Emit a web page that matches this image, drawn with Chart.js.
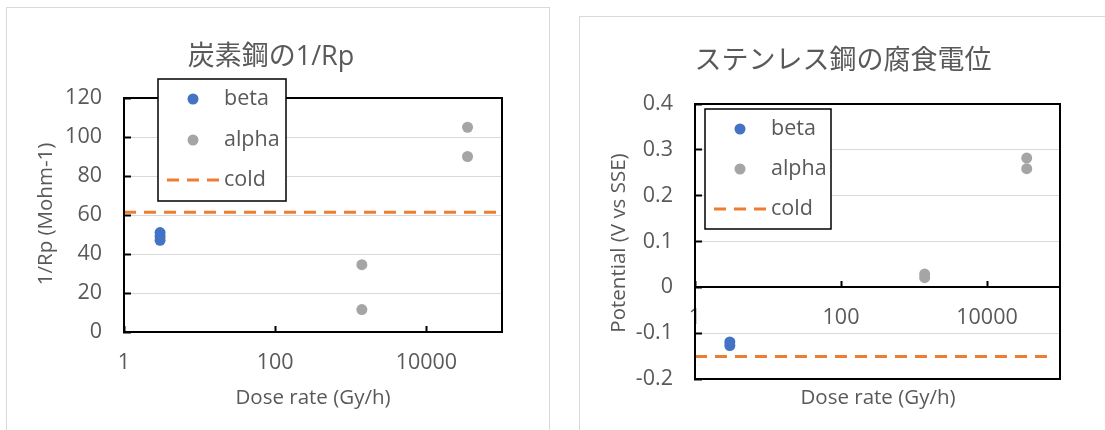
<!DOCTYPE html>
<html>
<head>
<meta charset="utf-8">
<script src="https://cdn.jsdelivr.net/npm/chart.js@4"></script>
<style>
    body { margin: 0; background: #fff; }
    .page { position: relative; width: 1105px; height: 430px; overflow: hidden; }
    .box { position: absolute; border: 1px solid #d9d9d9; background: #fff; }
    canvas { position: absolute; top: 0; }
</style>
</head>
<body>
<div class="page">
    <div class="box" style="left:6px; top:7px; width:542px; height:440px;"></div>
    <div class="box" style="left:579px; top:16px; width:540px; height:440px;"></div>
    <canvas id="carbon" width="555" height="430" style="left:0; width:555px; height:430px;"></canvas>
    <canvas id="stainless" width="550" height="430" style="left:555px; width:550px; height:430px;"></canvas>
</div>
<script>
// dose rate ticks (log axis)
const doseTicks = [1, 100, 10000];

// carbon steel 1/Rp
const carbonBetaDose = [3, 3, 3];
const carbonBetaRp = [51, 49, 47];
const carbonAlphaDose = [1400, 1400, 35000, 35000];
const carbonAlphaRp = [34.5, 11.5, 105, 90];
const carbonColdDose = [1, 100000];
const carbonColdRp = [61.4, 61.4];

// stainless steel corrosion potential
const ssBetaDose = [3, 3];
const ssBetaPot = [-0.119, -0.127];
const ssAlphaDose = [1400, 1400, 35000, 35000];
const ssAlphaPot = [0.029, 0.021, 0.282, 0.259];
const ssColdDose = [1, 76000];
const ssColdPot = [-0.151, -0.151];

const seriesNames = ['beta', 'alpha', 'cold'];
const FONT = "'Open Sans', 'Noto Sans CJK JP', sans-serif";
const TEXT = '#595959';

const toPoints = (xs, ys) => xs.map((x, i) => ({ x: x, y: ys[i] }));

const makeDatasets = (betaX, betaY, alphaX, alphaY, coldX, coldY) => [
    {
        type: 'scatter', label: seriesNames[0], data: toPoints(betaX, betaY),
        backgroundColor: '#4472C4', borderWidth: 0, pointRadius: 5.5
    },
    {
        type: 'scatter', label: seriesNames[1], data: toPoints(alphaX, alphaY),
        backgroundColor: '#A5A5A5', borderWidth: 0, pointRadius: 5.5
    },
    {
        type: 'line', label: seriesNames[2], data: toPoints(coldX, coldY),
        borderColor: '#ED7D31', borderWidth: 3, borderDash: [12, 8],
        pointRadius: 0, fill: false, clip: false
    }
];

// frame, titles and legend drawn on top of the chart
const decoPlugin = {
    id: 'deco',
    afterDraw(chart, args, opts) {
        const ctx = chart.ctx;
        const a = chart.chartArea;
        ctx.save();
        ctx.strokeStyle = '#000';
        ctx.lineWidth = 2;
        ctx.strokeRect(a.left, a.top, a.right - a.left, a.bottom - a.top);

        ctx.fillStyle = TEXT;
        ctx.textAlign = 'center';
        ctx.textBaseline = 'middle';
        ctx.font = '27px ' + FONT;
        ctx.fillText(opts.title, opts.titleX, opts.titleY);
        ctx.font = '20.5px ' + FONT;
        ctx.fillText(opts.xTitle, opts.xTitleX, opts.xTitleY);
        ctx.save();
        ctx.translate(opts.yTitleX, opts.yTitleY);
        ctx.rotate(-Math.PI / 2);
        ctx.fillText(opts.yTitle, 0, 0);
        ctx.restore();

        // legend
        const lg = opts.legend;
        ctx.fillStyle = '#fff';
        ctx.fillRect(lg.x, lg.y, lg.w, lg.h);
        ctx.strokeStyle = '#000';
        ctx.lineWidth = 1.5;
        ctx.strokeRect(lg.x, lg.y, lg.w, lg.h);
        chart.data.datasets.forEach((ds, i) => {
            const y = lg.rows[i];
            if (ds.type === 'line') {
                ctx.strokeStyle = ds.borderColor;
                ctx.lineWidth = ds.borderWidth;
                ctx.setLineDash(ds.borderDash);
                ctx.beginPath();
                ctx.moveTo(lg.lineX[0], y);
                ctx.lineTo(lg.lineX[1], y);
                ctx.stroke();
                ctx.setLineDash([]);
            } else {
                ctx.fillStyle = ds.backgroundColor;
                ctx.beginPath();
                ctx.arc(lg.markerX, y, 5.5, 0, Math.PI * 2);
                ctx.fill();
            }
            ctx.fillStyle = TEXT;
            ctx.font = '21.5px ' + FONT;
            ctx.textAlign = 'left';
            ctx.fillText(ds.label, lg.textX, y);
        });
        ctx.restore();
    }
};

const makeOptions = (cfg) => ({
    responsive: false,
    animation: false,
    layout: { padding: cfg.padding },
    plugins: {
        legend: { display: false },
        tooltip: { enabled: false },
        deco: cfg.deco
    },
    scales: {
        x: {
            type: 'logarithmic',
            min: 1,
            max: 100000,
            position: { y: cfg.xAt },
            afterBuildTicks: (scale) => {
                scale.ticks = doseTicks.map(v => ({ value: v }));
            },
            ticks: {
                color: TEXT,
                font: { family: FONT, size: 21.5 },
                padding: 25,
                maxRotation: 0,
                autoSkip: false,
                callback: (v) => String(v)
            },
            grid: {
                drawOnChartArea: false,
                tickLength: -7,
                tickColor: '#000',
                tickWidth: 2
            },
            border: { color: '#000', width: 2 }
        },
        y: {
            min: cfg.yMin,
            max: cfg.yMax,
            afterFit: (scale) => { scale.width = cfg.yWidth; },
            ticks: {
                stepSize: cfg.yStep,
                color: TEXT,
                font: { family: FONT, size: 21.5 },
                padding: 29,
                callback: cfg.yFormat
            },
            grid: {
                color: '#D9D9D9',
                lineWidth: 1,
                tickLength: -7,
                tickColor: '#000',
                tickWidth: 2
            },
            border: { color: '#000', width: 2 }
        }
    }
});

new Chart(document.getElementById('carbon'), {
    data: { datasets: makeDatasets(carbonBetaDose, carbonBetaRp, carbonAlphaDose, carbonAlphaRp, carbonColdDose, carbonColdRp) },
    options: makeOptions({
        padding: { left: 0, right: 53, top: 98, bottom: 98 },
        xAt: 0,
        yMin: 0, yMax: 120, yStep: 20, yWidth: 124,
        yFormat: (v) => String(v),
        deco: {
            title: '炭素鋼の1/Rp', titleX: 271, titleY: 57,
            xTitle: 'Dose rate (Gy/h)', xTitleX: 313, xTitleY: 398,
            yTitle: '1/Rp (Mohm-1)', yTitleX: 46, yTitleY: 214,
            legend: { x: 158, y: 79, w: 128, h: 122, rows: [99, 140, 180], markerX: 193, textX: 224, lineX: [167, 220] }
        }
    }),
    plugins: [decoPlugin]
});

new Chart(document.getElementById('stainless'), {
    data: { datasets: makeDatasets(ssBetaDose, ssBetaPot, ssAlphaDose, ssAlphaPot, ssColdDose, ssColdPot) },
    options: makeOptions({
        padding: { left: 0, right: 45, top: 104, bottom: 51 },
        xAt: 0,
        yMin: -0.2, yMax: 0.4, yStep: 0.1, yWidth: 140,
        yFormat: (v) => String(Math.round(v * 10) / 10),
        deco: {
            title: 'ステンレス鋼の腐食電位', titleX: 288, titleY: 61,
            xTitle: 'Dose rate (Gy/h)', xTitleX: 323, xTitleY: 398,
            yTitle: 'Potential (V vs SSE)', yTitleX: 64, yTitleY: 243,
            legend: { x: 150, y: 109, w: 126, h: 120, rows: [129, 169, 209], markerX: 185, textX: 216, lineX: [159, 212] }
        }
    }),
    plugins: [decoPlugin]
});
</script>
</body>
</html>
